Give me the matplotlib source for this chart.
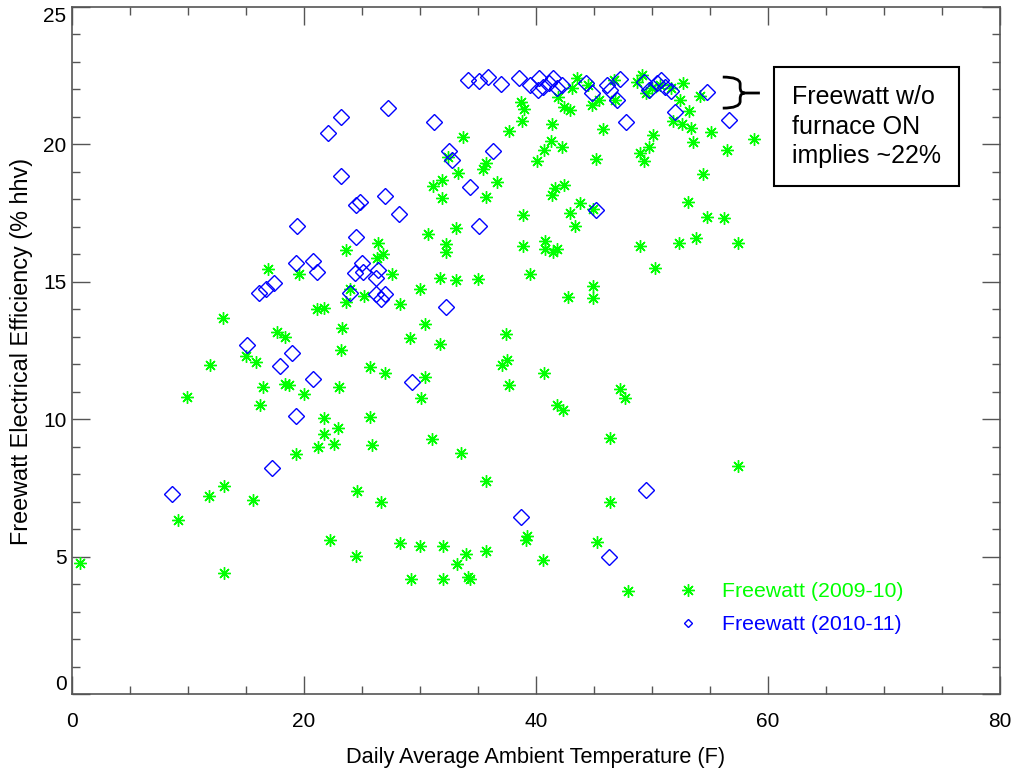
import matplotlib
matplotlib.use("Agg")
import matplotlib.pyplot as plt
from matplotlib.lines import Line2D
from matplotlib.path import Path
from matplotlib.patches import PathPatch
from matplotlib.ticker import MultipleLocator

plt.rcParams['font.family'] = ['Liberation Sans', 'DejaVu Sans']

# Freewatt (2009-10): daily avg temperature (F), electrical efficiency (% hhv)
temp_0910 = [0.7, 9.1, 9.9, 11.8, 11.9, 13.0, 13.1, 13.1, 15.0, 15.6,
             15.9, 16.2, 16.5, 16.9, 17.7, 18.4, 18.4, 18.7, 19.3, 19.6,
             20.0, 21.1, 21.7, 21.2, 21.7, 21.7, 22.2, 22.6, 22.9, 23.0,
             23.2, 23.3, 23.6, 23.6, 24.0, 24.5, 24.6, 25.2, 25.7, 25.7,
             25.9, 26.3, 26.4, 26.6, 26.8, 27.0, 27.6, 28.3, 28.3, 29.1,
             29.2, 30.0, 30.0, 30.1, 30.4, 30.4, 30.7, 31.0, 31.1, 31.7,
             31.7, 31.9, 31.9, 32.0, 32.0, 32.2, 32.2, 32.4, 33.1, 33.1,
             33.2, 33.3, 33.5, 33.7, 34.0, 34.1, 34.3, 35.0, 35.4, 35.7,
             35.7, 35.7, 35.7, 36.6, 37.1, 37.4, 37.5, 37.7, 37.7, 38.7,
             38.8, 38.9, 38.9, 39.0, 39.1, 39.2, 39.5, 40.1, 40.6, 40.7,
             40.7, 40.8, 40.8, 41.3, 41.4, 41.4, 41.5, 41.6, 41.8, 41.8,
             41.9, 42.2, 42.3, 42.4, 42.4, 42.8, 42.9, 42.9, 43.1, 43.4,
             43.5, 43.8, 44.5, 44.8, 44.9, 44.9, 44.9, 45.2, 45.3, 45.4,
             45.8, 46.4, 46.4, 46.7, 46.8, 47.2, 47.7, 47.9, 48.7, 49.0,
             49.0, 49.1, 49.3, 49.5, 49.7, 50.0, 50.1, 50.3, 50.7, 51.6,
             51.8, 53.1, 54.7, 56.2, 52.3, 52.4, 52.6, 52.7, 53.2, 53.4,
             53.5, 53.8, 54.1, 54.4, 55.1, 56.5, 57.4, 57.4, 58.8]
eff_0910 = [4.77, 6.33, 10.82, 7.2, 11.97, 13.7, 7.57, 4.4, 12.3, 7.06,
            12.09, 10.52, 11.18, 15.45, 13.18, 12.98, 11.28, 11.24, 8.75, 15.27,
            10.9, 14.01, 14.06, 8.98, 10.05, 9.45, 5.6, 9.1, 9.69, 11.18,
            12.52, 13.31, 14.25, 16.16, 14.74, 5.02, 7.39, 14.5, 11.91, 10.09,
            9.06, 15.88, 16.42, 6.99, 16.0, 11.67, 15.27, 14.18, 5.5, 12.94,
            4.2, 14.73, 5.39, 10.76, 13.47, 11.55, 16.73, 9.27, 18.5, 15.15,
            12.74, 18.7, 18.04, 5.39, 4.18, 16.38, 16.1, 19.55, 16.95, 15.07,
            4.73, 18.95, 8.78, 20.26, 5.1, 4.26, 4.18, 15.09, 19.1, 19.33,
            18.1, 7.76, 5.2, 18.62, 11.97, 13.1, 12.15, 20.49, 11.24, 21.55,
            20.85, 17.43, 16.3, 21.28, 5.6, 5.75, 15.27, 19.41, 4.88, 19.78,
            11.67, 16.5, 16.18, 20.11, 20.74, 18.16, 16.09, 18.4, 16.18, 10.52,
            21.71, 19.9, 10.33, 21.35, 18.52, 14.43, 21.25, 17.49, 22.04, 17.03,
            22.4, 17.86, 22.16, 21.43, 17.64, 14.85, 14.4, 19.47, 5.53, 21.63,
            20.55, 9.33, 6.98, 22.34, 21.6, 11.09, 10.76, 3.75, 22.28, 19.67,
            16.3, 22.53, 19.4, 21.86, 19.9, 22.04, 20.33, 15.49, 22.16, 22.04,
            20.86, 17.92, 17.37, 17.31, 16.4, 21.62, 20.74, 22.25, 21.23, 20.6,
            20.1, 16.58, 21.76, 18.93, 20.45, 19.78, 16.4, 8.3, 20.18]

# Freewatt (2010-11)
temp_1011 = [8.6, 15.1, 16.1, 16.7, 17.4, 17.2, 17.9, 19.0, 19.3, 19.3,
             19.4, 20.8, 21.1, 20.8, 22.1, 23.2, 23.2, 24.0, 24.4, 24.5,
             24.8, 24.5, 25.0, 25.1, 26.2, 26.4, 26.2, 26.6, 27.0, 27.0,
             27.2, 28.2, 29.3, 31.2, 32.2, 32.5, 32.8, 34.1, 34.3, 35.1,
             35.1, 35.9, 36.3, 37.0, 38.5, 38.7, 39.5, 40.2, 40.3, 40.6,
             41.1, 41.5, 41.8, 42.2, 44.3, 44.8, 45.2, 46.1, 46.3, 46.4,
             47.0, 47.2, 47.8, 49.3, 49.5, 49.7, 50.4, 50.8, 51.1, 51.6,
             52.0, 54.7, 56.6]
eff_1011 = [7.28, 12.7, 14.58, 14.73, 14.97, 8.22, 11.94, 12.4, 10.13, 15.67,
            17.03, 15.77, 15.37, 11.45, 20.4, 21.01, 18.85, 14.6, 15.31, 17.79,
            17.91, 16.64, 15.7, 15.37, 15.15, 15.43, 14.56, 14.36, 14.56, 18.12,
            21.31, 17.46, 11.34, 20.83, 14.1, 19.76, 19.43, 22.34, 18.44, 17.04,
            22.3, 22.44, 19.76, 22.2, 22.4, 6.44, 22.16, 21.98, 22.4, 22.1,
            22.23, 22.4, 22.04, 22.16, 22.23, 21.86, 17.61, 22.16, 4.98, 21.98,
            21.62, 22.37, 20.83, 22.28, 7.42, 21.98, 22.23, 22.34, 22.1, 21.96,
            21.19, 21.92, 20.89]

labels = ['Freewatt (2009-10)', 'Freewatt (2010-11)']
note = 'Freewatt w/o\nfurnace ON\nimplies ~22%'

green = '#00ff00'
blue = '#0000ff'
axcol = '#555555'

fig = plt.figure(figsize=(10.16, 7.75), dpi=100)
ax = fig.add_axes([72 / 1016, 81 / 775, 928 / 1016, 687 / 775])

ax.plot(temp_0910, eff_0910, ls='none', marker=(8, 2, 0), ms=9, mew=1.0,
        color=green, clip_on=False)
ax.plot(temp_1011, eff_1011, ls='none', marker='D', ms=8, mew=1.0,
        mfc='none', mec=blue, clip_on=False)

ax.set_xlim(0, 80)
ax.set_ylim(0, 25)
ax.set_xticks([0, 20, 40, 60, 80])
ax.set_yticks([0, 5, 10, 15, 20, 25])
ax.xaxis.set_minor_locator(MultipleLocator(5))
ax.yaxis.set_minor_locator(MultipleLocator(1))
ax.tick_params(which='both', direction='in', top=True, right=True,
               color=axcol, width=1.0, labelsize=15)
ax.tick_params(which='major', length=13)
ax.tick_params(which='minor', length=6)
ax.tick_params(axis='x', pad=13)
ax.tick_params(axis='y', pad=4)
for s in ax.spines.values():
    s.set_color(axcol)
    s.set_linewidth(1.2)

yt = ax.yaxis.get_major_ticks()
yt[0].label1.set_verticalalignment('bottom')
yt[-1].label1.set_verticalalignment('top')

ax.set_xlabel('Daily Average Ambient Temperature (F)', fontsize=15.7)
ax.set_ylabel('Freewatt Electrical Efficiency (% hhv)', fontsize=16.8)
ax.xaxis.set_label_coords(0.5, -0.077)
ax.yaxis.set_label_coords(-0.042, 0.498)

# legend
handles = [Line2D([], [], ls='none', marker=(8, 2, 0), ms=9, mew=1.0, color=green),
           Line2D([], [], ls='none', marker='D', ms=4.5, mew=1.0, mfc='none',
                  mec=blue, color=blue)]
ax.legend(handles, labels, loc='upper left', bbox_to_anchor=(0.6526, 0.163),
          frameon=False, fontsize=15.3, labelcolor='linecolor',
          handlelength=1.0, handletextpad=1.1, labelspacing=0.68,
          borderpad=0, borderaxespad=0)

# brace marking the ~22% band
bx0, bx1, bx2, bx3 = 56.1, 57.6, 58.0, 59.3
by0, bym, by1 = 22.45, 21.87, 21.32
verts = [(bx0, by0), (bx1, by0), (bx1, by0 - 0.25),
         (bx1, bym + 0.2),
         (bx1, bym), (bx2, bym),
         (bx1, bym), (bx1, bym - 0.2),
         (bx1, by1 + 0.25),
         (bx1, by1), (bx0, by1),
         (bx2, bym), (bx3, bym)]
codes = [Path.MOVETO, Path.CURVE3, Path.CURVE3,
         Path.LINETO,
         Path.CURVE3, Path.CURVE3,
         Path.CURVE3, Path.CURVE3,
         Path.LINETO,
         Path.CURVE3, Path.CURVE3,
         Path.MOVETO, Path.LINETO]
ax.add_patch(PathPatch(Path(verts, codes), fc='none', ec='black', lw=2.0,
                       clip_on=False))

ax.text(62.04, 22.16, note, fontsize=18, ha='left', va='top', linespacing=1.3,
        bbox=dict(boxstyle='square,pad=0.72', fc='white', ec='black', lw=1.5))

fig.savefig('out.png', dpi=100)
